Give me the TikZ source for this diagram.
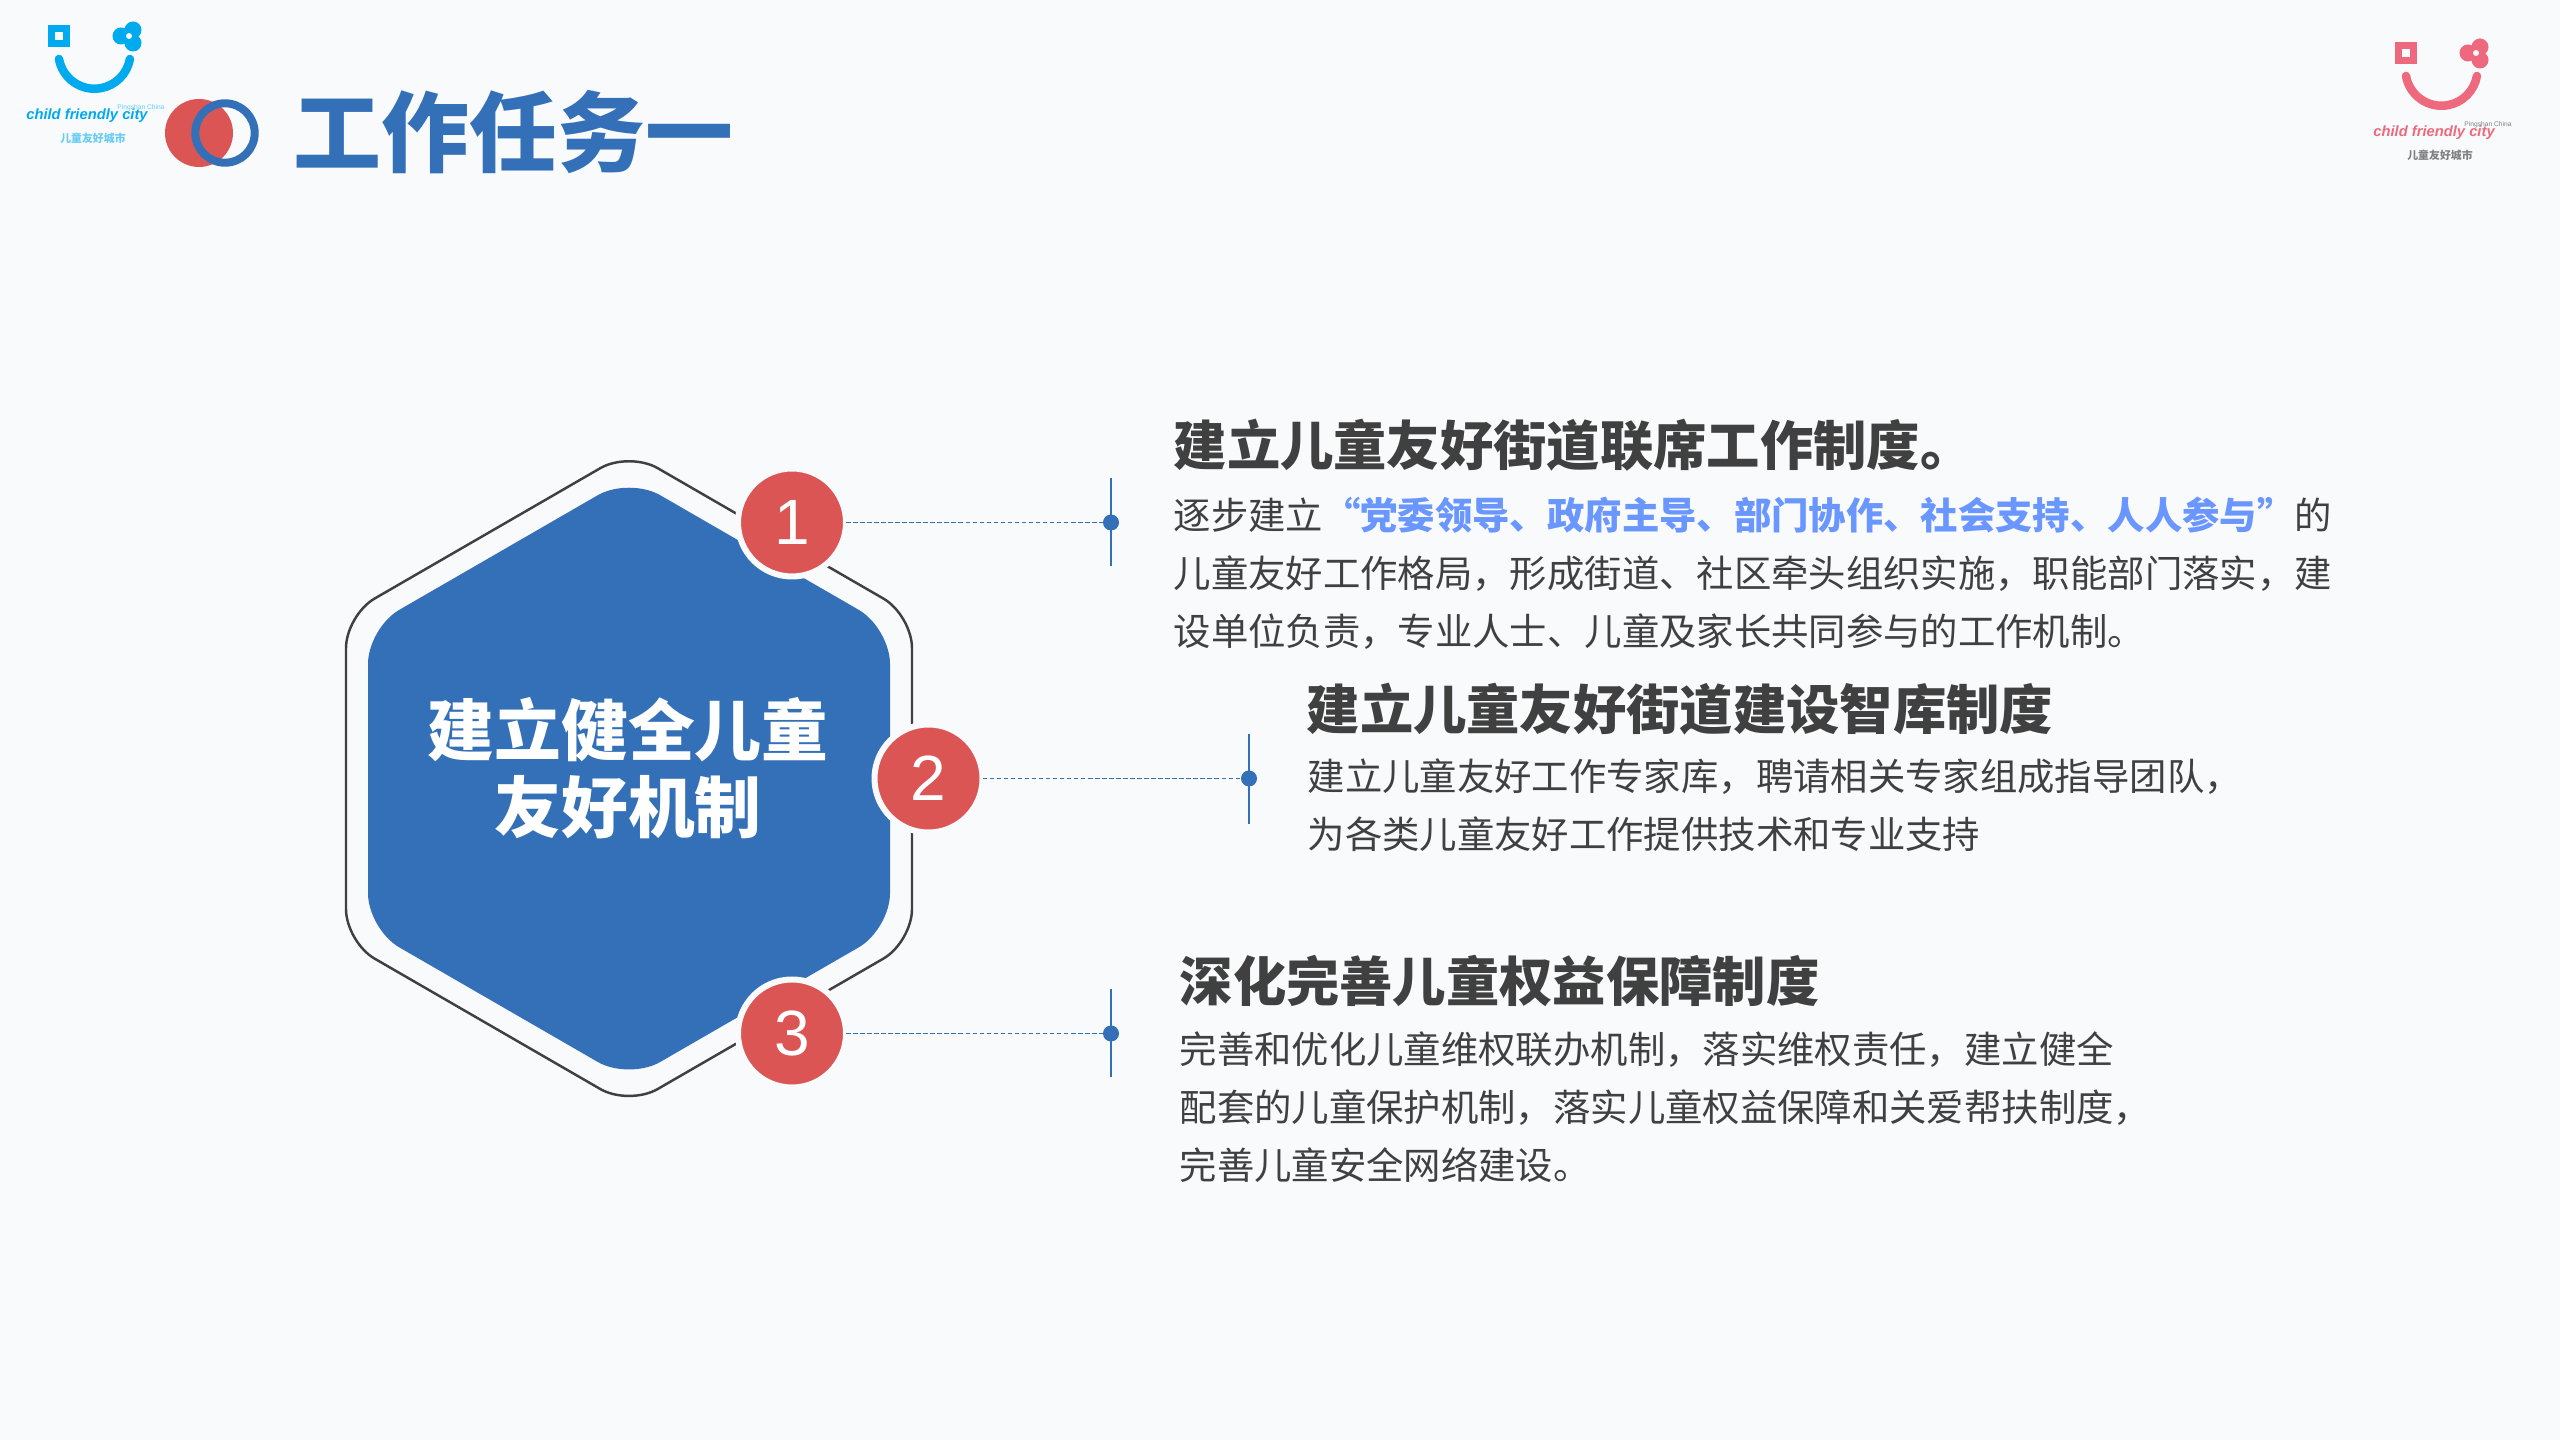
\documentclass[tikz,border=0pt]{standalone}
\usepackage{fontspec}
\setmainfont{Noto Sans CJK SC}
\newfontfamily\latinfont{Liberation Sans}
\usetikzlibrary{calc}
\definecolor{pagebg}{RGB}{248,250,252}
\definecolor{mainblue}{RGB}{51,112,184}
\definecolor{mainred}{RGB}{219,85,85}
\definecolor{accentblue}{RGB}{106,150,255}
\definecolor{bodygrey}{RGB}{64,64,64}
\definecolor{logoblue}{RGB}{0,170,238}
\definecolor{logopink}{RGB}{238,105,125}
\tikzset{
	headtext/.style={anchor=west, inner sep=0, text=bodygrey, font=\fontsize{15.17}{20}\selectfont\bfseries},
	bodytext/.style={anchor=west, inner sep=0, text=bodygrey, align=left, font=\fontsize{10.63}{16.5}\selectfont},
	numdot/.style={circle, fill=mainred, draw=pagebg, line width=0.06cm, minimum size=1.08cm, inner sep=0, outer sep=0, text=white, font=\latinfont\fontsize{18.2}{20}\selectfont},
	enddot/.style={circle, fill=mainblue, minimum size=0.16cm, inner sep=0, outer sep=0},
	leader/.style={mainblue, line width=0.5pt, dash pattern=on 1.3pt off 0.7pt},
	tick/.style={mainblue, line width=0.4pt}
}
\def\smilelogo(#1)#2#3#4{
	\begin{scope}[shift={(#1)}]
		\draw[#3, line width=0.07cm] (0.035, -0.035) rectangle (0.185, -0.185);
		\draw[#3, line width=0.085cm, line cap=round] (0.11, -0.34) arc (190:350:0.36);
		\fill[#3] (0.73, -0.11) circle (0.085);
		\fill[#3] (0.85, -0.05) circle (0.085);
		\fill[#3] (0.85, -0.18) circle (0.085);
		\fill[pagebg] (0.81, -0.11) circle (0.03);
		\node[inner sep=0, text=#3, font=\latinfont\bfseries\itshape\fontsize{4.2}{5}\selectfont] (#2name) at (0.39, -0.91) {child friendly city};
		\node[inner sep=0, text=#4, font=\latinfont\fontsize{1.9}{2}\selectfont] (#2place) at (0.93, -0.83) {Pingshan China};
		\node[inner sep=0, text=#4, font=\fontsize{3.1}{4}\selectfont\bfseries] (#2city) at (0.45, -1.13) {儿童友好城市};
	\end{scope}
}

\begin{document}
\begin{tikzpicture}
	%%%%% PAGE %%%%%
	\useasboundingbox (0, 0) rectangle (25.6, 14.4);
	\fill[pagebg] (0, 0) rectangle (25.6, 14.4);

	%%%%% HEADER %%%%%
	\smilelogo(0.48, 14.15){blue}{logoblue}{logoblue!60}
	\smilelogo(23.95, 13.98){pink}{logopink}{black!50}

	\fill[mainred] (1.99, 13.07) circle (0.34);
	\draw[mainblue, line width=0.08cm] (2.25, 13.07) circle (0.297);
	\node[anchor=west, inner sep=0, text=mainblue, font=\fontsize{25}{30}\selectfont\bfseries] (title) at (2.93, 13.08) {工作任务一};

	%%%%% HEXAGON %%%%%
	\draw[bodygrey, line width=0.7pt, rounded corners=0.33cm] (6.29, 9.884) -- (9.12, 8.249) -- (9.12, 4.979) -- (6.29, 3.344) -- (3.46, 4.979) -- (3.46, 8.249) -- cycle;
	\fill[mainblue, rounded corners=0.36cm] (6.29, 9.628) -- (8.90, 8.121) -- (8.90, 5.107) -- (6.29, 3.60) -- (3.68, 5.107) -- (3.68, 8.121) -- cycle;
	\node[inner sep=0, text=white, align=center, font=\fontsize{19}{21.9}\selectfont\bfseries] (hextext) at (6.28, 6.72) {建立健全儿童\\友好机制};

	%%%%% NUMBERS %%%%%
	\node[numdot] (num1) at (7.92, 9.175) {1};
	\node[numdot] (num2) at (9.285, 6.615) {2};
	\node[numdot] (num3) at (7.92, 4.065) {3};

	\node[enddot] (dot1) at (11.11, 9.175) {};
	\node[enddot] (dot2) at (12.49, 6.615) {};
	\node[enddot] (dot3) at (11.11, 4.065) {};

	\coordinate (top1) at (11.11, 9.62);
	\coordinate (bot1) at (11.11, 8.74);
	\coordinate (top2) at (12.49, 7.06);
	\coordinate (bot2) at (12.49, 6.16);
	\coordinate (top3) at (11.11, 4.51);
	\coordinate (bot3) at (11.11, 3.63);

	\draw[leader] (num1) -- (dot1);
	\draw[leader] (num2) -- (dot2);
	\draw[leader] (num3) -- (dot3);
	\draw[tick] (top1) -- (bot1);
	\draw[tick] (top2) -- (bot2);
	\draw[tick] (top3) -- (bot3);

	%%%%% TEXT %%%%%
	\node[headtext] (head1) at (11.73, 9.95) {建立儿童友好街道联席工作制度。};
	\node[bodytext] (body1) at (11.73, 8.67) {逐步建立{\color{accentblue}\bfseries “党委领导、政府主导、部门协作、社会支持、人人参与”}的\\儿童友好工作格局，形成街道、社区牵头组织实施，职能部门落实，建\\设单位负责，专业人士、儿童及家长共同参与的工作机制。};

	\node[headtext] (head2) at (13.06, 7.31) {建立儿童友好街道建设智库制度};
	\node[bodytext] (body2) at (13.07, 6.345) {建立儿童友好工作专家库，聘请相关专家组成指导团队，\\为各类儿童友好工作提供技术和专业支持};

	\node[headtext] (head3) at (11.79, 4.59) {深化完善儿童权益保障制度};
	\node[bodytext] (body3) at (11.79, 3.33) {完善和优化儿童维权联办机制，落实维权责任，建立健全\\配套的儿童保护机制，落实儿童权益保障和关爱帮扶制度，\\完善儿童安全网络建设。};
\end{tikzpicture}
\end{document}
